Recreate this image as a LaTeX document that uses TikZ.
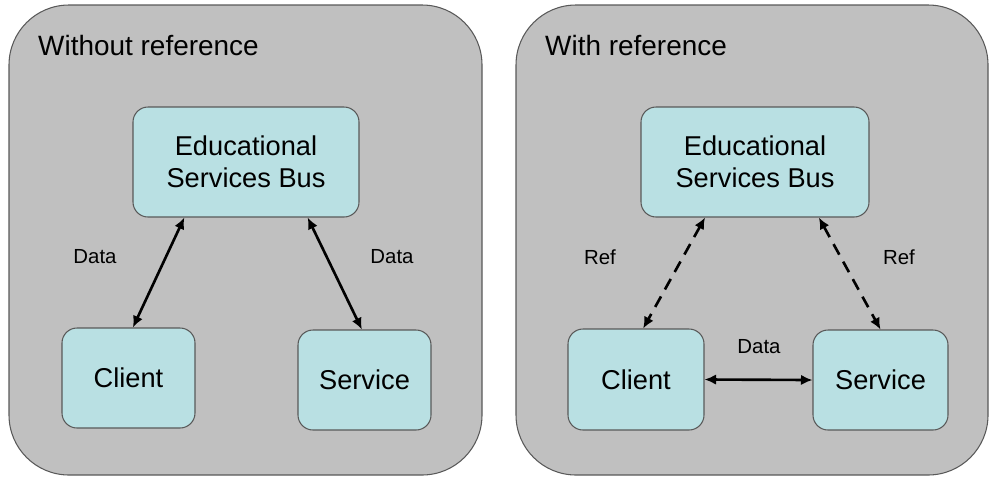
\documentclass[tikz,border=0pt]{standalone}
\usepackage{fontspec}
\setmainfont{Liberation Sans}
\usetikzlibrary{arrows.meta}

\definecolor{panelgray}{RGB}{192,192,192}
\definecolor{boxcyan}{RGB}{185,224,227}

\begin{document}
\begin{tikzpicture}[
    panel/.style    = {draw=black!65, line width=0.6pt, fill=panelgray,
                       rounded corners=1.2cm, inner sep=0pt},
    paneltitle/.style = {anchor=base west, font=\fontsize{15.9}{18}\selectfont},
    comp/.style     = {draw=black!65, line width=0.6pt, fill=boxcyan,
                       rounded corners=0.3cm, align=center,
                       font=\fontsize{15.5}{18.2}\selectfont},
    lbl/.style      = {font=\fontsize{11.6}{13}\selectfont},
    link/.style     = {{Latex[length=2.3mm,width=2.1mm]}-{Latex[length=2.3mm,width=2.1mm]},
                       line width=1.5pt},
    reflink/.style  = {link, dash pattern=on 2.4mm off 1.6mm},
  ]

  \useasboundingbox (0,0) rectangle (19.78,-9.52);

  % panels
  \node[panel, minimum width=9.46cm, minimum height=9.40cm] (panelA) at (4.91cm, -4.80cm) {};
  \node[panel, minimum width=9.44cm, minimum height=9.40cm] (panelB) at (15.04cm, -4.80cm) {};
  \node[paneltitle] (titleA) at (0.64cm, -1.10cm) {Without reference};
  \node[paneltitle] (titleB) at (10.78cm, -1.10cm) {With reference};

  % without reference
  \node[comp, minimum width=4.52cm, minimum height=2.20cm] (esbA) at (4.92cm, -3.24cm) {Educational\\Services Bus};
  \node[comp, minimum width=2.66cm, minimum height=2.00cm] (clientA) at (2.57cm, -7.56cm) {Client};
  \node[comp, minimum width=2.66cm, minimum height=2.00cm] (serviceA) at (7.29cm, -7.60cm) {Service};
  \node[lbl] (dataA1) at (1.90cm, -5.14cm) {Data};
  \node[lbl] (dataA2) at (7.84cm, -5.14cm) {Data};

  % with reference
  \node[comp, minimum width=4.56cm, minimum height=2.20cm] (esbB) at (15.10cm, -3.24cm) {Educational\\Services Bus};
  \node[comp, minimum width=2.72cm, minimum height=2.02cm] (clientB) at (12.72cm, -7.59cm) {Client};
  \node[comp, minimum width=2.70cm, minimum height=2.00cm] (serviceB) at (17.61cm, -7.60cm) {Service};
  \node[lbl] (refB1) at (12.00cm, -5.14cm) {Ref};
  \node[lbl] (refB2) at (17.98cm, -5.14cm) {Ref};
  \node[lbl] (dataB) at (15.18cm, -6.94cm) {Data};

  \draw[link] (esbA.222) -- (clientA.85);
  \draw[link] (esbA.318) -- (serviceA.93);
  \draw[reflink] (esbB.228) -- (clientB.82);
  \draw[reflink] (esbB.319) -- (serviceB.90);
  \draw[link] (clientB.east) -- (serviceB.west);

\end{tikzpicture}
\end{document}
